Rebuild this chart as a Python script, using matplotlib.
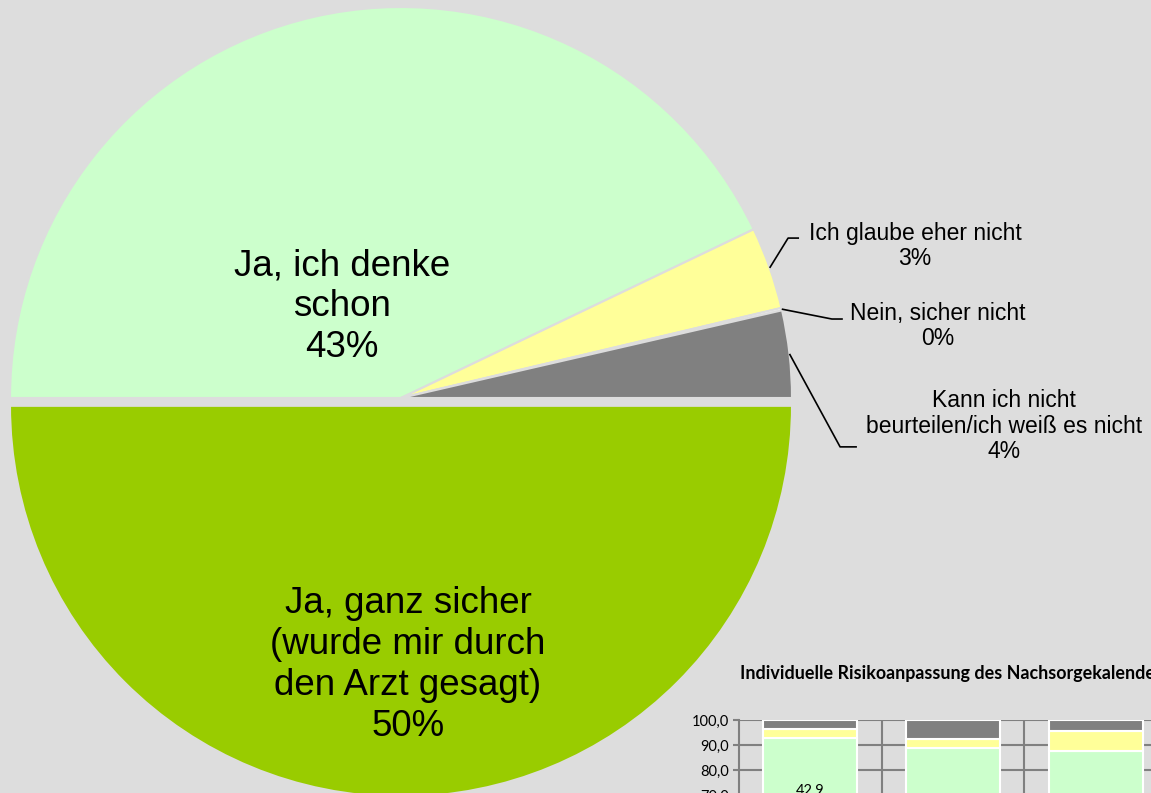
import numpy as np
import matplotlib.pyplot as plt

# Daten
pie_labels = ['Ja, ganz sicher\n(wurde mir durch\nden Arzt gesagt)',
              'Ja, ich denke\nschon',
              'Ich glaube eher nicht',
              'Nein, sicher nicht',
              'Kann ich nicht\nbeurteilen/ich weiß es nicht']
pie_values = [50.0, 42.9, 3.4, 0.1, 3.6]

bar_dark = [50.0, 44.4, 45.8]
bar_light = [42.9, 44.4, 41.7]
bar_yellow = [3.4, 3.7, 8.3]
bar_gray = [3.6, 7.4, 4.2]
bar_title = 'Individuelle Risikoanpassung des Nachsorgekalenders'
y_ticks = [0, 10, 20, 30, 40, 50, 60, 70, 80, 90, 100]

BG = '#DDDDDD'
colors = ['#99CC00', '#CCFFCC', '#FFFF99', '#FFFFFF', '#808080']

W, H = 1151, 793
fig = plt.figure(figsize=(W / 100, H / 100), dpi=100, facecolor=BG)

# Kreisdiagramm in Pixelkoordinaten positionieren
cx, cy, r = 401, 398, 391
L = 1.05
ax = fig.add_axes([(cx - r * L) / W, (H - cy - r * L) / H, 2 * r * L / W, 2 * r * L / H])
ax.set_facecolor('none')

wedges, _ = ax.pie(pie_values, colors=colors, startangle=0, counterclock=False,
                   explode=[0.02, 0, 0, 0, 0],
                   wedgeprops=dict(edgecolor=BG, linewidth=1.5))
for w in wedges:
    w.set_clip_on(False)
ax.set_xlim(-L, L)
ax.set_ylim(-L, L)
ax.axis('off')

texts = [f'{lab}\n{v:.0f}%' for lab, v in zip(pie_labels, pie_values)]

# große Beschriftungen innen
big_pos = {0: (0.018, -0.683), 1: (-0.151, 0.233)}
for i, (x, y) in big_pos.items():
    ax.text(x, y, texts[i], ha='center', va='center', fontsize=26.5,
            family='Liberation Sans', linespacing=1.22, color='black')

# kleine Beschriftungen außen mit Führungslinien
# (Textmitte, Knickpunkt, Linienende)
small_pos = {
    2: ((1.315, 0.389), (0.990, 0.409), (1.018, 0.409)),
    3: ((1.373, 0.184), (1.102, 0.202), (1.130, 0.202)),
    4: ((1.542, -0.072), (1.123, -0.125), (1.166, -0.125)),
}
for i, (tp, ep, lp) in small_pos.items():
    w = wedges[i]
    th = np.deg2rad((w.theta1 + w.theta2) / 2)
    x0, y0 = np.cos(th), np.sin(th)
    ax.plot([x0, ep[0], lp[0]], [y0, ep[1], lp[1]], color='black', lw=1.2,
            clip_on=False, solid_capstyle='butt')
    ax.text(tp[0], tp[1], texts[i], ha='center', va='center', fontsize=16.5,
            family='Liberation Sans', linespacing=1.13, color='black')

# eingebettetes Säulendiagramm (teilweise außerhalb des Bildes)
px_per_cat = 142.7
y100, px_per_100 = 720, 250
ax2 = fig.add_axes([739 / W, (H - y100 - px_per_100) / H, 4 * px_per_cat / W, px_per_100 / H])
ax2.set_facecolor('none')
xs = np.arange(len(bar_dark))
bottom = np.zeros(len(xs))
for vals, col in zip([bar_dark, bar_light, bar_yellow, bar_gray],
                     ['#99CC00', '#CCFFCC', '#FFFF99', '#808080']):
    ax2.bar(xs, vals, width=0.66, bottom=bottom, color=col, edgecolor='white',
            linewidth=1.5, zorder=3)
    if col in ('#99CC00', '#CCFFCC'):
        for x, b, v in zip(xs, bottom, vals):
            ax2.text(x, b + v / 2, f'{v:.1f}'.replace('.', ','), ha='center', va='center',
                     fontsize=10.5, family='Lato', zorder=4)
    bottom += np.array(vals)

ax2.set_xlim(-0.5, 3.5)
ax2.set_ylim(0, 100)
ax2.set_yticks(y_ticks)
ax2.set_yticklabels([f'{t:.1f}'.replace('.', ',') for t in y_ticks], family='Lato', fontsize=10.5)
ax2.set_xticks([])
ax2.set_xticks([0.5, 1.5, 2.5, 3.5], minor=True)
ax2.tick_params(axis='x', which='minor', length=0)
ax2.tick_params(axis='y', length=4.5, width=1.5, color='#808080', pad=3)
ax2.grid(axis='y', color='#808080', lw=1.5, zorder=0)
ax2.grid(axis='x', which='minor', color='#808080', lw=1.5, zorder=0)
for s in ['top', 'right', 'bottom']:
    ax2.spines[s].set_visible(False)
ax2.spines['left'].set_color('#808080')
ax2.spines['left'].set_linewidth(1.5)

fig.text(740 / W, (H - 674) / H, bar_title, ha='left', va='center', fontsize=12.9,
         family='Lato', fontweight='bold')

fig.savefig('out.png', dpi=100, facecolor=BG)
